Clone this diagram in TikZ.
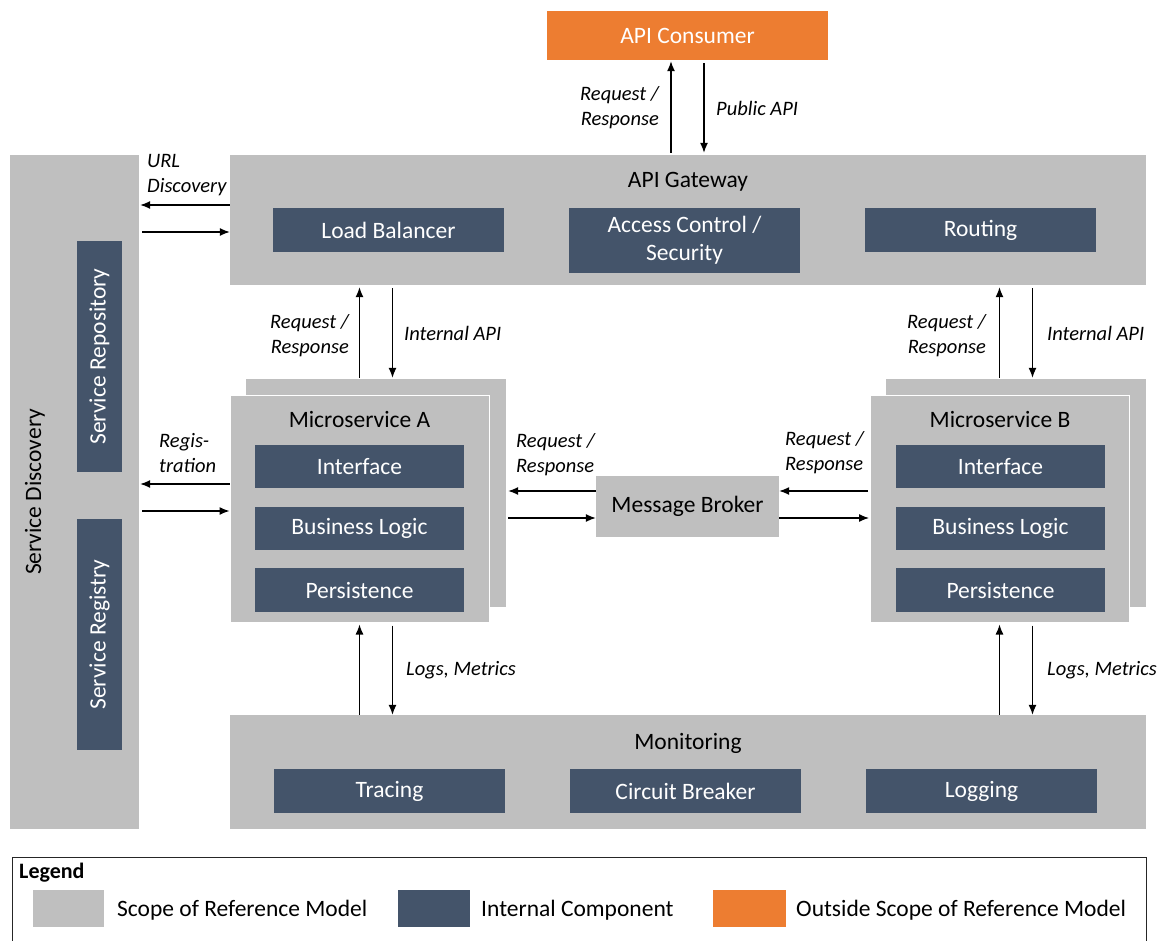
\documentclass[tikz,border=0pt]{standalone}
\usepackage{fontspec}
\setmainfont{Carlito}
\usetikzlibrary{arrows.meta,calc}
\definecolor{scopegray}{HTML}{BFBFBF}
\definecolor{intdark}{HTML}{44546A}
\definecolor{outorange}{HTML}{ED7D31}
\tikzset{
  scopebox/.style={fill=scopegray,draw=none,inner sep=0pt},
  intbox/.style={fill=intdark,draw=none,inner sep=0pt,text=white,font=\fontsize{23.5}{28}\selectfont,align=center},
  outbox/.style={fill=outorange,draw=none,inner sep=0pt,text=white,font=\fontsize{23.5}{28}\selectfont},
  title/.style={inner sep=0pt,font=\fontsize{23.5}{28}\selectfont},
  lbl/.style={inner sep=0pt,font=\fontsize{20.5}{25}\selectfont\itshape},
  arr/.style={-{Latex[length=10pt,width=8pt]},line width=1.3pt},
}
\begin{document}
\begin{tikzpicture}[x=1pt,y=-1pt]
\useasboundingbox (0,0) rectangle (1162,941);
% API consumer
\node[outbox,minimum width=281pt,minimum height=49pt] (cons) at (687.5,35.5) {API Consumer};
% Service discovery
\node[scopebox,minimum width=129pt,minimum height=674pt] (sd) at (74.5,492) {};
\node[title,rotate=90] (sdt) at (35,492) {Service Discovery};
\node[intbox,minimum width=45pt,minimum height=231pt] (srepo) at (99.5,356.5) {};
\node[inner sep=0pt,text=white,font=\fontsize{23.5}{28}\selectfont,rotate=90] (srepot) at (srepo.center) {Service Repository};
\node[intbox,minimum width=45pt,minimum height=231pt] (sreg) at (99.5,634.5) {};
\node[inner sep=0pt,text=white,font=\fontsize{23.5}{28}\selectfont,rotate=90] (sregt) at (sreg.center) {Service Registry};
% API gateway
\node[scopebox,minimum width=916pt,minimum height=130pt] (gw) at (688,220) {};
\node[title] (gwt) at (688,182) {API Gateway};
\node[intbox,minimum width=231pt,minimum height=44pt] (lb) at (388.5,230) {Load Balancer};
\node[intbox,minimum width=231pt,minimum height=65pt] (ac) at (684.5,240.5) {Access Control /\\Security};
\node[intbox,minimum width=231pt,minimum height=44pt] (rt) at (980.5,230) {Routing};
% Microservice A
\node[scopebox,minimum width=260pt,minimum height=228pt] (msAb) at (376,493) {};
\node[scopebox,draw=white,line width=1pt,minimum width=259pt,minimum height=227pt] (msA) at (359.5,508.5) {};
\node[title] (msAt) at (359.5,420) {Microservice A};
\node[intbox,minimum width=209pt,minimum height=43pt] (aif) at (359.5,466.5) {Interface};
\node[intbox,minimum width=209pt,minimum height=43pt] (abl) at (359.5,528.5) {Business Logic};
\node[intbox,minimum width=209pt,minimum height=44pt] (aper) at (359.5,590) {Persistence};
% Microservice B
\node[scopebox,minimum width=260pt,minimum height=228pt] (msBb) at (1016,493) {};
\node[scopebox,draw=white,line width=1pt,minimum width=259pt,minimum height=227pt] (msB) at (1000,508.5) {};
\node[title] (msBt) at (1000,420) {Microservice B};
\node[intbox,minimum width=209pt,minimum height=43pt] (bif) at (1000.5,466.5) {Interface};
\node[intbox,minimum width=209pt,minimum height=43pt] (bbl) at (1000.5,528.5) {Business Logic};
\node[intbox,minimum width=209pt,minimum height=44pt] (bper) at (1000.5,590) {Persistence};
% Message broker
\node[scopebox,title,minimum width=183pt,minimum height=61pt] (mb) at (687.5,506.5) {Message Broker};
% Monitoring
\node[scopebox,minimum width=916pt,minimum height=114pt] (mon) at (688,772) {};
\node[title] (mont) at (688,743) {Monitoring};
\node[intbox,minimum width=231pt,minimum height=44pt] (tr) at (389.5,791) {Tracing};
\node[intbox,minimum width=231pt,minimum height=44pt] (cb) at (685.5,791) {Circuit Breaker};
\node[intbox,minimum width=231pt,minimum height=44pt] (lg) at (981.5,791) {Logging};
% Consumer <-> Gateway
\draw[arr] ([xshift=-16.5pt,yshift=2pt]gw.north -| cons.south) -- ([xshift=-16.5pt,yshift=-1pt]cons.south);
\draw[arr] ([xshift=16.5pt,yshift=-3pt]cons.south) -- ([xshift=16.5pt,yshift=2pt]cons.south |- gw.north);
\node[lbl,anchor=east,align=right] (l1) at (659,108) {Request /\\Response};
\node[lbl,anchor=west] (l2) at (716,108) {Public API};
% Gateway <-> Service discovery
\draw[arr] (gw.west |- 0,205) -- ([xshift=1pt]sd.east |- 0,205);
\draw[arr] ([xshift=3pt]sd.east |- 0,232) -- (gw.west |- 0,232);
\node[lbl,anchor=west,align=left] (l3) at (147,175) {URL\\Discovery};
% MS A <-> Service discovery
\draw[arr] (msA.west |- 0,484) -- ([xshift=1pt]sd.east |- 0,484);
\draw[arr] ([xshift=3pt]sd.east |- 0,511) -- (msA.west |- 0,511);
\node[lbl,anchor=west,align=left] (l4) at (159,453) {Regis-\\tration};
% Gateway <-> MS A
\draw[arr] ([xshift=-16.5pt,yshift=1pt]msAb.north) -- ([xshift=-16.5pt,yshift=-2pt]msAb.north |- gw.south);
\draw[arr] ([xshift=16.5pt,yshift=-3pt]msAb.north |- gw.south) -- ([xshift=16.5pt,yshift=1pt]msAb.north);
\node[lbl,anchor=east,align=right] (l5) at (349,336) {Request /\\Response};
\node[lbl,anchor=west] (l6) at (404,333) {Internal API};
% Gateway <-> MS B
\draw[arr] ([xshift=-16.5pt,yshift=1pt]msBb.north) -- ([xshift=-16.5pt,yshift=-2pt]msBb.north |- gw.south);
\draw[arr] ([xshift=16.5pt,yshift=-3pt]msBb.north |- gw.south) -- ([xshift=16.5pt,yshift=1pt]msBb.north);
\node[lbl,anchor=east,align=right] (l7) at (986,336) {Request /\\Response};
\node[lbl,anchor=west] (l8) at (1047,333) {Internal API};
% MS A <-> Broker
\draw[arr] ([yshift=15.5pt]mb.west) -- ([yshift=15.5pt,xshift=2pt]mb.west -| msAb.east);
\draw[arr] ([yshift=-11.5pt,xshift=2pt]mb.west -| msAb.east) -- ([yshift=-11.5pt]mb.west);
\node[lbl,anchor=west,align=left] (l9) at (516,455) {Request /\\Response};
% MS B <-> Broker
\draw[arr] ([yshift=15.5pt,xshift=-2pt]mb.east -| msB.west) -- ([yshift=15.5pt]mb.east);
\draw[arr] ([yshift=-11.5pt]mb.east) -- ([yshift=-11.5pt,xshift=-1pt]mb.east -| msB.west);
\node[lbl,anchor=west,align=left] (l10) at (785,453) {Request /\\Response};
% MS A <-> Monitoring
\draw[arr] ([xshift=-16.5pt]msAb.south |- mon.north) -- ([xshift=-16.5pt,yshift=-2pt]msAb.south |- msA.south);
\draw[arr] ([xshift=16.5pt,yshift=-3pt]msAb.south |- msA.south) -- ([xshift=16.5pt]msAb.south |- mon.north);
\node[lbl,anchor=west] (l11) at (406,670) {Logs, Metrics};
% MS B <-> Monitoring
\draw[arr] ([xshift=-16.5pt]msBb.south |- mon.north) -- ([xshift=-16.5pt,yshift=-2pt]msBb.south |- msB.south);
\draw[arr] ([xshift=16.5pt,yshift=-3pt]msBb.south |- msB.south) -- ([xshift=16.5pt]msBb.south |- mon.north);
\node[lbl,anchor=west] (l12) at (1047,670) {Logs, Metrics};
% Legend
\draw[black!85,line width=1pt] (12,945) -- (12,857) -- (1146,857) -- (1146,945);
\node[inner sep=0pt,anchor=west,font=\fontsize{22}{26}\selectfont\bfseries] (leg) at (19,873) {Legend};
\node[scopebox,minimum width=71pt,minimum height=37pt] (lgs) at (68.5,908.5) {};
\node[title,anchor=west] (lgst) at (117,910) {Scope of Reference Model};
\node[intbox,minimum width=72pt,minimum height=37pt] (lgi) at (434,908.5) {};
\node[title,anchor=west] (lgit) at (481,910) {Internal Component};
\node[outbox,minimum width=73pt,minimum height=37pt] (lgo) at (749.5,908.5) {};
\node[title,anchor=west] (lgot) at (796,910) {Outside Scope of Reference Model};
\end{tikzpicture}
\end{document}
